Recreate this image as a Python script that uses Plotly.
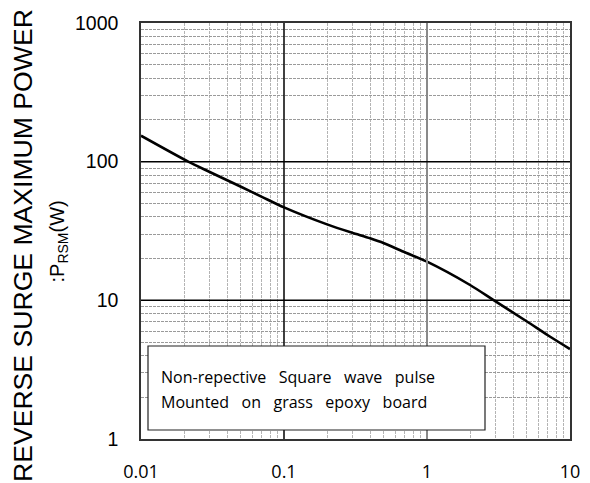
import plotly.graph_objects as go

# data
pulse_time = [0.01, 0.0214, 0.03, 0.05, 0.07, 0.1, 0.2, 0.3, 0.4, 0.5, 0.7, 1.0, 2.0, 2.94, 5.0, 7.0, 10.0]
power_w = [153.8, 100, 84.6, 65.9, 55.8, 46.8, 35.3, 30.7, 28.0, 25.8, 22.2, 19.0, 12.9, 10, 7.04, 5.6, 4.45]

x_major = [0.01, 0.1, 1, 10]
x_major_text = ["0.01", "0.1", "1", "10"]
y_major = [1, 10, 100, 1000]
y_major_text = ["1", "10", "100", "1000"]

x_minor = [m * d for d in (0.01, 0.1, 1) for m in range(2, 10)]
y_minor = [m * d for d in (1, 10, 100) for m in range(2, 10)]

y_title = "REVERSE SURGE MAXIMUM POWER"
y_sub = ":P<sub>RSM</sub>(W)"
SP = "\u00a0\u00a0 "
note_lines = [SP.join(["Non-repective", "Square", "wave", "pulse"]),
              SP.join(["Mounted", "on", "grass", "epoxy", "board"])]

# page-pixel helpers (plot area spans x 141..570, y 23..439 on the page)
def px(xp):
    return (xp - 141) / 429

def py(yp):
    return (439 - yp) / 416

fig = go.Figure()
fig.add_trace(go.Scatter(x=pulse_time, y=power_w, mode="lines",
                         line=dict(color="black", width=2.6, shape="spline", smoothing=0.7),
                         showlegend=False, hoverinfo="skip"))

fig.update_xaxes(type="log", range=[-2, 1], tickvals=x_major, ticktext=x_major_text,
                 showgrid=False, zeroline=False, automargin=False,
                 showline=True, mirror=True, linecolor="#333333", linewidth=1.5,
                 ticks="outside", ticklen=16, tickcolor="rgba(0,0,0,0)",
                 tickfont=dict(family="Open Sans", size=18, color="black"),
                 minor=dict(tickvals=x_minor, showgrid=True, gridcolor="#b4b4b4",
                            griddash="3px,1px", gridwidth=1, ticks=""))
fig.update_yaxes(type="log", range=[0, 3], tickvals=y_major, ticktext=y_major_text,
                 showgrid=False, zeroline=False, automargin=False,
                 showline=True, mirror=True, linecolor="#333333", linewidth=1.5,
                 ticks="outside", ticklen=17, tickcolor="rgba(0,0,0,0)",
                 tickfont=dict(family="Liberation Sans", size=19.5, color="black"),
                 minor=dict(tickvals=y_minor, showgrid=True, gridcolor="#9a9a9a",
                            griddash="3px,1px", gridwidth=1, ticks=""))

# major grid lines
for xv, col, w in [(0.1, "black", 1.5), (1, "#8a8a8a", 2)]:
    fig.add_shape(type="line", xref="x", yref="paper", x0=xv, x1=xv, y0=0, y1=1,
                  line=dict(color=col, width=w), layer="above")
for yv in [10, 100]:
    fig.add_shape(type="line", xref="paper", yref="y", x0=0, x1=1, y0=yv, y1=yv,
                  line=dict(color="black", width=1.5), layer="above")

# note box
fig.add_shape(type="rect", xref="paper", yref="paper",
              x0=px(148), x1=px(485), y0=py(430), y1=py(346),
              fillcolor="white", line=dict(color="#222222", width=1.2), layer="above")
for line_text, yy in zip(note_lines, [377, 402]):
    fig.add_annotation(xref="paper", yref="paper", x=px(159), y=py(yy),
                       xanchor="left", yanchor="middle", align="left", showarrow=False,
                       text=line_text,
                       font=dict(family="Open Sans", size=16, color="black"))

# y titles
fig.add_annotation(xref="paper", yref="paper", x=px(23), y=py(246),
                   xanchor="center", yanchor="middle", textangle=-90, showarrow=False,
                   text=y_title, font=dict(family="Liberation Sans", size=26.6, color="black"))
fig.add_annotation(xref="paper", yref="paper", x=px(43), y=py(242),
                   xanchor="left", yanchor="middle", textangle=-90, showarrow=False,
                   text=y_sub, font=dict(family="Liberation Sans", size=20, color="black"))

# page has an 8px body margin, so the figure is shifted; compensate in size/margins
fig.update_layout(width=582, height=475, margin=dict(l=133, r=20, t=15, b=44),
                  plot_bgcolor="white", paper_bgcolor="white")
fig.write_html("out.html")
